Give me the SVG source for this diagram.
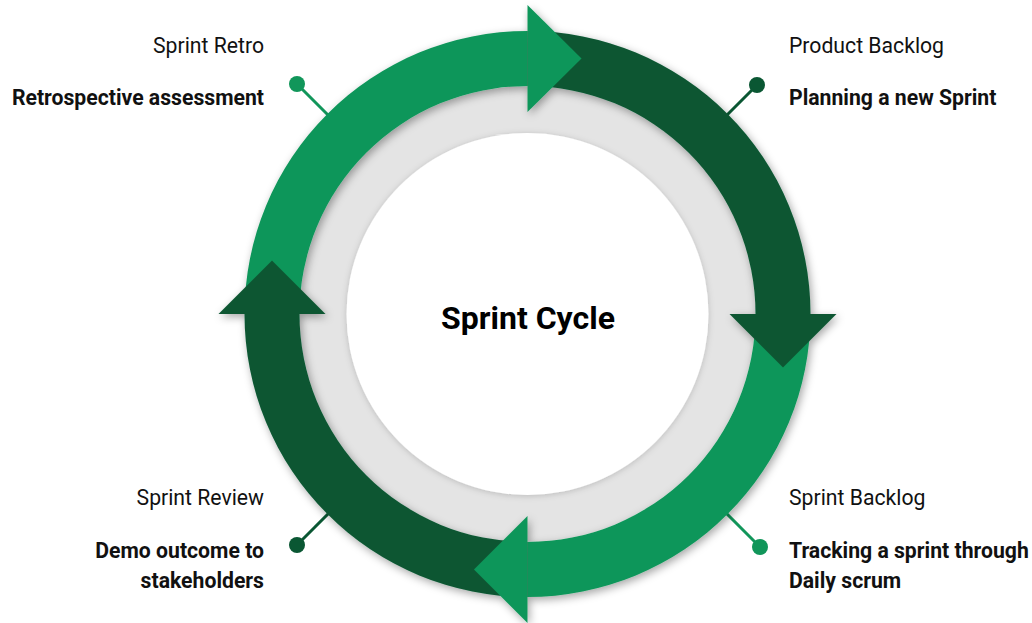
<svg xmlns="http://www.w3.org/2000/svg" width="1032" height="623" viewBox="0 0 1032 623">
  <defs>
    <filter id="shadow" x="-20%" y="-20%" width="140%" height="140%">
      <feDropShadow dx="2" dy="3" stdDeviation="4" flood-color="#000" flood-opacity="0.35"/>
    </filter>
    <filter id="soft" x="-20%" y="-20%" width="140%" height="140%">
      <feDropShadow dx="0" dy="1" stdDeviation="3" flood-color="#000" flood-opacity="0.18"/>
    </filter>
    <style>
      .light { fill: #11965A; }
      .dark { fill: #0A5733; }
      .lineL { stroke: #11965A; stroke-width: 3; }
      .lineD { stroke: #0A5733; stroke-width: 3; }
      .title { font-family: Roboto, "Liberation Sans", sans-serif; font-size: 21.2px; fill: #111; }
      .desc { font-family: Roboto, "Liberation Sans", sans-serif; font-size: 21.2px; font-weight: bold; fill: #111; }
      .center { font-family: Roboto, "Liberation Sans", sans-serif; font-size: 32px; font-weight: bold; fill: #000; }
    </style>
  </defs>
  <rect width="1032" height="623" fill="#fff"/>

  <g id="connectors">
    <line class="lineL" x1="297" y1="84" x2="335" y2="122"/>
    <circle class="light" cx="297" cy="84" r="8"/>
    <line class="lineD" x1="757" y1="85" x2="720" y2="122"/>
    <circle class="dark" cx="757" cy="85" r="8"/>
    <line class="lineD" x1="297" y1="545" x2="335" y2="507"/>
    <circle class="dark" cx="297" cy="545" r="8"/>
    <line class="lineL" x1="760" y1="547" x2="720" y2="507"/>
    <circle class="light" cx="760" cy="547" r="8"/>
  </g>

  <g id="hub">
    <circle cx="527.5" cy="314" r="228" fill="#E4E4E4"/>
    <circle cx="527.5" cy="314" r="181" fill="#fff" filter="url(#soft)"/>
    <text class="center" x="528" y="329" text-anchor="middle">Sprint Cycle</text>
  </g>

  <g id="ring" filter="url(#shadow)">
    <path id="band-retro" class="light" d="M244.5,314 A283,283 0 0 1 527.5,31 L527.5,86 A228,228 0 0 0 299.5,314 Z"/>
    <path id="band-product" class="dark" d="M527.5,31 A283,283 0 0 1 810.5,314 L755.5,314 A228,228 0 0 0 527.5,86 Z"/>
    <path id="band-sprint" class="light" d="M810.5,314 A283,283 0 0 1 527.5,597 L527.5,542 A228,228 0 0 0 755.5,314 Z"/>
    <path id="band-review" class="dark" d="M527.5,597 A283,283 0 0 1 244.5,314 L299.5,314 A228,228 0 0 0 527.5,542 Z"/>
    <polygon class="light" points="527.5,5 581.5,58.5 527.5,112"/>
    <polygon class="dark" points="729.5,314 836.5,314 783,367.5"/>
    <polygon class="light" points="527.5,516 474,569.5 527.5,623"/>
    <polygon class="dark" points="218.5,314 325.5,314 272,260.5"/>
  </g>

  <g id="node-retro">
    <text class="title" x="264" y="52.5" text-anchor="end">Sprint Retro</text>
    <text class="desc" x="264" y="104.5" text-anchor="end">Retrospective assessment</text>
  </g>
  <g id="node-product">
    <text class="title" x="789" y="52.5">Product Backlog</text>
    <text class="desc" x="789" y="104.5">Planning a new Sprint</text>
  </g>
  <g id="node-sprint">
    <text class="title" x="789" y="504.5">Sprint Backlog</text>
    <text class="desc" x="789" y="557.5">Tracking a sprint through</text>
    <text class="desc" x="789" y="587.5">Daily scrum</text>
  </g>
  <g id="node-review">
    <text class="title" x="264" y="504.5" text-anchor="end">Sprint Review</text>
    <text class="desc" x="264" y="557.5" text-anchor="end">Demo outcome to</text>
    <text class="desc" x="264" y="587.5" text-anchor="end">stakeholders</text>
  </g>
</svg>
